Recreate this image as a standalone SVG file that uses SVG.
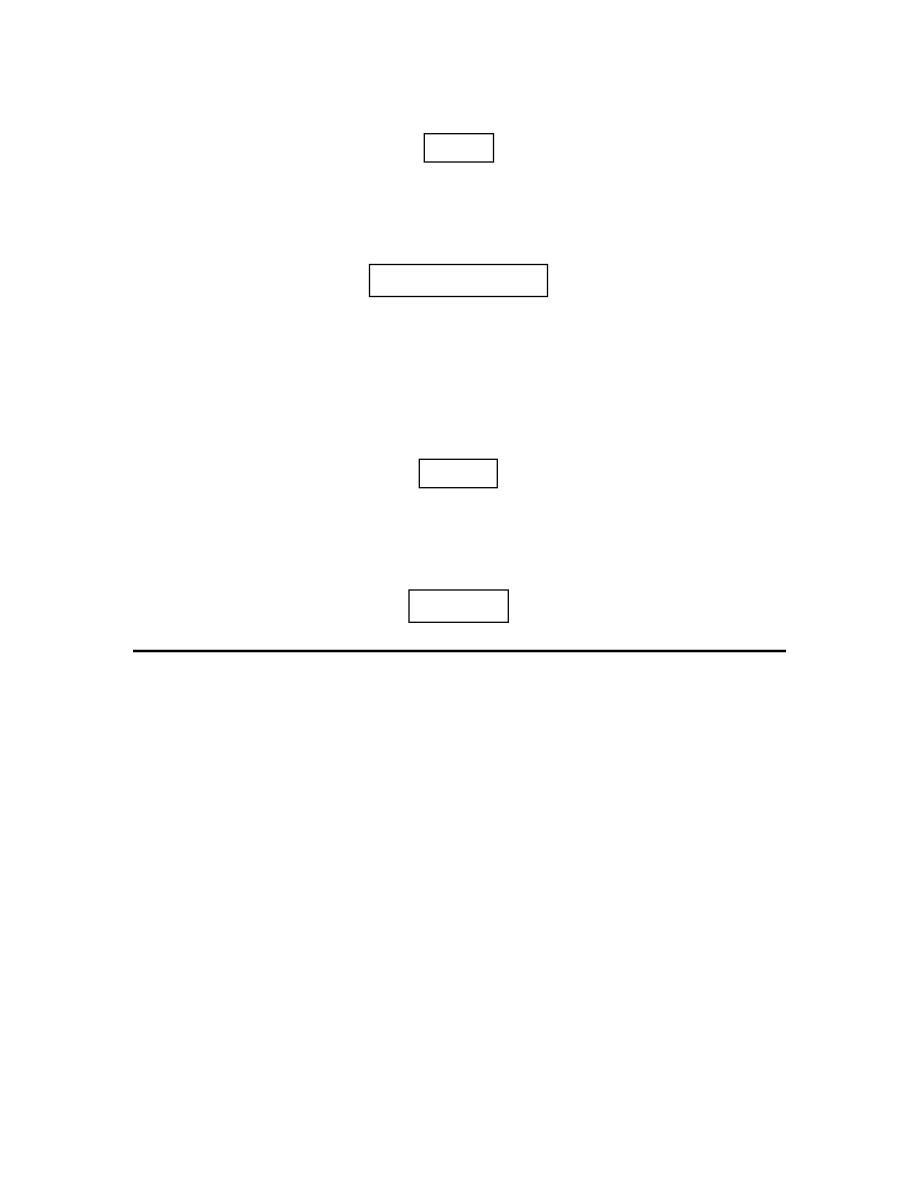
<svg xmlns="http://www.w3.org/2000/svg" width="918" height="1188" viewBox="0 0 918 1188">
<style>
.box{fill:#fff;stroke:#000;stroke-width:1.3}
.rule{stroke:#000;stroke-width:2.6}
</style>
<rect width="918" height="1188" fill="#fff"/>
<g id="node1"><rect class="box" x="424.3" y="133.7" width="69.2" height="28.3"/></g>
<g id="node2"><rect class="box" x="369.5" y="264.5" width="178" height="32"/></g>
<g id="node3"><rect class="box" x="419.3" y="459.3" width="78" height="28.4"/></g>
<g id="node4"><rect class="box" x="409" y="590" width="99.3" height="32.3"/></g>
<g id="connectors"><line class="rule" x1="133" y1="651" x2="786" y2="651"/></g>
</svg>
